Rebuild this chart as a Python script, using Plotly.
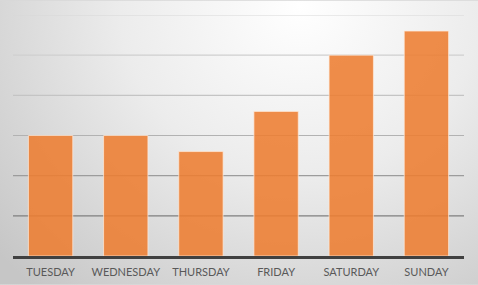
import base64
import plotly.graph_objects as go

days = ["TUESDAY", "WEDNESDAY", "THURSDAY", "FRIDAY", "SATURDAY", "SUNDAY"]
values = [30, 30, 26, 36, 50, 56]
grid_values = [10, 20, 30, 40, 50, 60]
grid_colors = ["#7f7f7f", "#9c9c9c", "#b2b2b2", "#c4c4c4", "#cfcfcf", "#d8d8d8"]

W, H = 478, 285
L, R, T, B = 13, 14, 14.5, 28.5
PW, PH = W - L - R, H - T - B

svg = f'''<svg xmlns="http://www.w3.org/2000/svg" width="{W}" height="{H}">
<defs><radialGradient id="g" cx="300" cy="5" r="400" gradientUnits="userSpaceOnUse" gradientTransform="translate(300 5) scale(1 0.95) translate(-300 -5)">
<stop offset="0" stop-color="#ffffff"/><stop offset="0.45" stop-color="#ececec"/><stop offset="1" stop-color="#c6c6c6"/>
</radialGradient></defs>
<rect width="{W}" height="{H}" fill="url(#g)"/></svg>'''
src = "data:image/svg+xml;base64," + base64.b64encode(svg.encode()).decode()

fig = go.Figure()
fig.add_trace(go.Bar(
    x=days, y=values,
    marker=dict(color="rgba(237,125,49,0.88)", line=dict(color="rgba(255,235,220,0.7)", width=1)),
))

shapes = []
for v, c in zip(grid_values, grid_colors):
    shapes.append(dict(type="line", xref="paper", x0=0, x1=1, yref="y", y0=v, y1=v,
                       line=dict(color=c, width=1.2), layer="below"))

fig.update_layout(
    width=W, height=H,
    margin=dict(l=L, r=R, t=T, b=B, autoexpand=False),
    paper_bgcolor="#d8d8d8",
    plot_bgcolor="rgba(0,0,0,0)",
    bargap=0.41,
    showlegend=False,
    shapes=shapes,
    images=[dict(source=src, xref="paper", yref="paper",
                 x=-L / PW, y=1 + T / PH, sizex=W / PW, sizey=H / PH,
                 xanchor="left", yanchor="top", sizing="stretch", layer="below")],
    xaxis=dict(showline=True, linecolor="#404040", linewidth=2.5, ticks="",
               ticklabelstandoff=4, automargin=False,
               tickfont=dict(family="Lato", size=11, color="#595959"), showgrid=False),
    yaxis=dict(range=[0, 60], showgrid=False, showticklabels=False, zeroline=False,
               automargin=False),
)

fig.write_html("out.html")
